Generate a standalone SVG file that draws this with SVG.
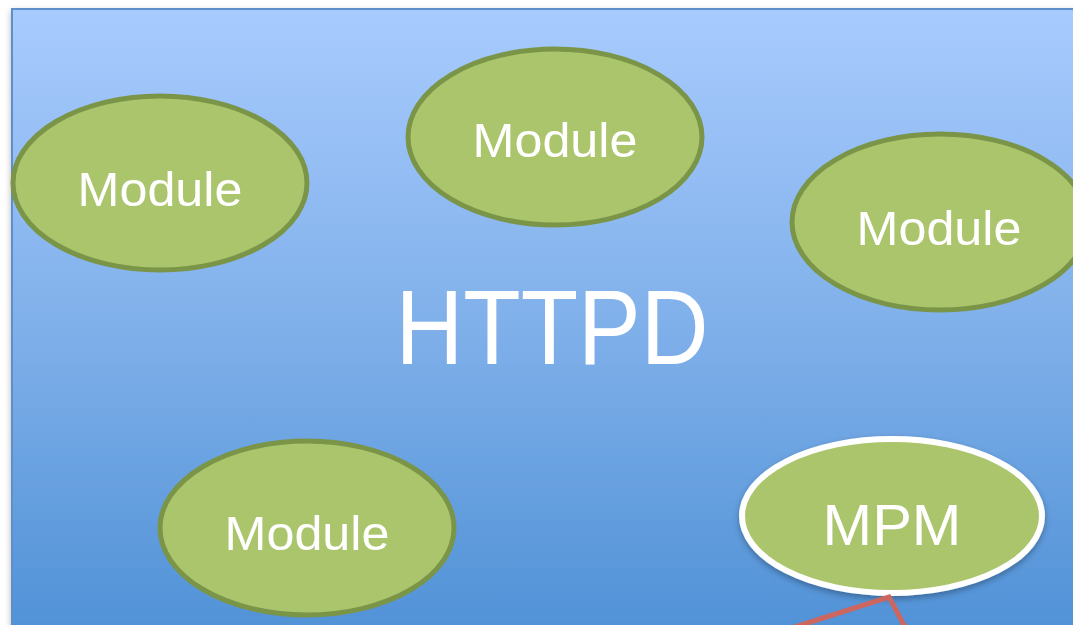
<svg xmlns="http://www.w3.org/2000/svg" width="1073" height="625" viewBox="0 0 1073 625">
<defs>
<linearGradient id="bg" x1="0" y1="0" x2="0" y2="1">
<stop offset="0" stop-color="#a8cbfe"/>
<stop offset="0.5" stop-color="#80b0ea"/>
<stop offset="1" stop-color="#4f91d6"/>
</linearGradient>
<filter id="sh" x="-10%" y="-10%" width="120%" height="130%">
<feDropShadow dx="0" dy="3" stdDeviation="3" flood-color="#000" flood-opacity="0.3"/>
</filter>
<style>
.mod{fill:#abc56d;stroke:#7a9547;stroke-width:5}
.mpm{fill:#abc56d;stroke:#ffffff;stroke-width:6}
.lbl{font-family:"Liberation Sans",Arial,sans-serif;fill:#ffffff;font-size:49px;text-anchor:middle}
</style>
</defs>
<rect x="12" y="9" width="1070" height="630" fill="url(#bg)" stroke="#5b8fcb" stroke-width="2" filter="url(#sh)"/>
<text class="lbl" x="552" y="364" style="font-size:105px" textLength="313" lengthAdjust="spacingAndGlyphs">HTTPD</text>
<g id="module1"><ellipse class="mod" cx="160" cy="183" rx="147" ry="87"/><text class="lbl" x="160" y="206" textLength="165" lengthAdjust="spacingAndGlyphs">Module</text></g>
<g id="module2"><ellipse class="mod" cx="555" cy="137" rx="147" ry="88"/><text class="lbl" x="555" y="157" textLength="165" lengthAdjust="spacingAndGlyphs">Module</text></g>
<g id="module3"><ellipse class="mod" cx="940" cy="222" rx="148" ry="88"/><text class="lbl" x="939" y="245" textLength="165" lengthAdjust="spacingAndGlyphs">Module</text></g>
<g id="module4"><ellipse class="mod" cx="307" cy="528" rx="147" ry="87"/><text class="lbl" x="307" y="550" textLength="165" lengthAdjust="spacingAndGlyphs">Module</text></g>
<g id="mpm"><ellipse class="mpm" cx="892" cy="516" rx="150" ry="77" filter="url(#sh)"/><text class="lbl" x="892" y="545" style="font-size:58px" textLength="139" lengthAdjust="spacingAndGlyphs">MPM</text></g>
<g id="connectors"><polyline points="795,627 889,597 905,627" fill="none" stroke="#cd665f" stroke-width="5"/></g>
</svg>
